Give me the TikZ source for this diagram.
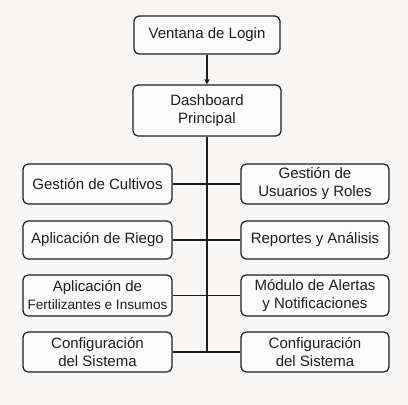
\documentclass[tikz,border=0pt]{standalone}
\usepackage{fontspec}
\setmainfont{Liberation Sans}
\usetikzlibrary{arrows.meta}
\definecolor{bg}{HTML}{F7F6F4}
\definecolor{ink}{HTML}{1E1E1E}
\begin{document}
\begin{tikzpicture}[x=1pt,y=-1pt,
  box/.style={draw=ink,line width=1.2pt,rounded corners=5pt,fill=white!60!bg,
    align=center,inner sep=0pt,font=\fontsize{15}{18}\selectfont,text=ink},
  lbox/.style={box,minimum width=149pt,minimum height=40pt},
  conn/.style={draw=ink,line width=1.2pt}]
\fill[bg] (0,0) rectangle (408,405);
\useasboundingbox (0,0) rectangle (408,405);
\node[box,minimum width=146pt,minimum height=38pt] (login) at (207,35) {Ventana de Login};
\node[box,minimum width=148pt,minimum height=51pt] (dash) at (207,110.5) {Dashboard\\Principal};
\node[lbox] (l1) at (97.5,184) {Gestión de Cultivos};
\node[lbox,minimum height=38pt] (l2) at (97.5,240) {Aplicación de Riego};
\node[lbox,minimum height=41pt] (l3) at (97.5,295.5) {Aplicación de\\{\fontsize{13.6}{18}\selectfont Fertilizantes e Insumos}};
\node[lbox] (l4) at (97.5,352) {Configuración\\del Sistema};
\node[lbox,minimum width=148pt] (r1) at (315,184) {Gestión de\\Usuarios y Roles};
\node[lbox,minimum width=148pt,minimum height=38pt] (r2) at (315,240) {Reportes y Análisis};
\node[lbox,minimum width=148pt,minimum height=41pt] (r3) at (315,295.5) {Módulo de Alertas\\y Notificaciones};
\node[lbox,minimum width=148pt] (r4) at (315,352) {Configuración\\del Sistema};
\draw[conn,-{Triangle[length=5pt,width=5pt]}] (login) -- (dash);
\coordinate (bend) at (dash.south |- l4.east);
\draw[conn] (dash.south) -- (bend);
\draw[conn] (l1) -- (r1);
\draw[conn] (l2) -- (r2);
\draw[conn] (l3) -- (r3);
\draw[conn] (l4) -- (r4);
\end{tikzpicture}
\end{document}
